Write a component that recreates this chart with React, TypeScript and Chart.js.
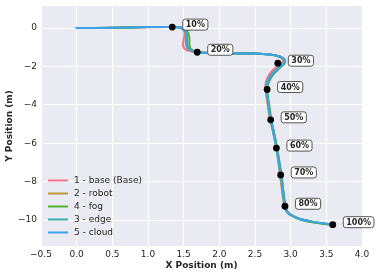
import React, { useEffect, useRef } from "react";
import { Chart, registerables } from "chart.js";

Chart.register(...registerables);

const seriesNames = ["1 - base (Base)", "2 - robot", "4 - fog", "3 - edge", "5 - cloud"];
const seriesColors = ["#f77189", "#bb9832", "#50b131", "#36ada4", "#3ba3ec"];

const baseX = [0.0, 0.5, 1.0, 1.34, 1.45, 1.51, 1.5, 1.49, 1.53, 1.62, 1.69, 1.9, 2.2, 2.5, 2.7, 2.83, 2.89, 2.87, 2.78, 2.7, 2.65, 2.65, 2.68, 2.72, 2.76, 2.8, 2.86, 2.92, 2.95, 3.0, 3.12, 3.3, 3.59];
const baseY = [0.0, 0.01, 0.04, 0.05, 0.02, -0.2, -0.6, -0.92, -1.12, -1.22, -1.26, -1.29, -1.31, -1.32, -1.37, -1.47, -1.64, -1.85, -2.08, -2.42, -2.83, -3.2, -4.0, -4.78, -5.5, -6.25, -7.65, -9.28, -9.55, -9.72, -9.93, -10.08, -10.24];

const robotX = [0.0, 0.5, 1.0, 1.34, 1.45, 1.52, 1.53, 1.53, 1.56, 1.63, 1.69, 1.9, 2.2, 2.5, 2.7, 2.83, 2.9, 2.89, 2.81, 2.72, 2.66, 2.65, 2.68, 2.71, 2.76, 2.8, 2.85, 2.91, 2.94, 2.99, 3.12, 3.3, 3.59];
const robotY = [0.0, 0.02, 0.05, 0.06, 0.03, -0.15, -0.5, -0.86, -1.09, -1.21, -1.26, -1.3, -1.32, -1.33, -1.38, -1.48, -1.65, -1.85, -2.1, -2.45, -2.85, -3.2, -4.0, -4.78, -5.5, -6.25, -7.65, -9.28, -9.56, -9.73, -9.94, -10.09, -10.25];

const fogX = [0.0, 0.5, 1.0, 1.34, 1.47, 1.55, 1.58, 1.58, 1.6, 1.65, 1.69, 1.9, 2.2, 2.5, 2.71, 2.85, 2.92, 2.91, 2.84, 2.75, 2.69, 2.67, 2.7, 2.73, 2.77, 2.81, 2.87, 2.93, 2.96, 3.01, 3.12, 3.3, 3.59];
const fogY = [0.0, 0.02, 0.05, 0.06, 0.03, -0.15, -0.5, -0.85, -1.08, -1.2, -1.26, -1.3, -1.32, -1.33, -1.38, -1.48, -1.65, -1.85, -2.1, -2.45, -2.85, -3.2, -4.0, -4.78, -5.5, -6.25, -7.65, -9.3, -9.58, -9.75, -9.96, -10.11, -10.26];

const edgeX = [0.0, 0.5, 1.0, 1.34, 1.46, 1.53, 1.55, 1.55, 1.58, 1.64, 1.69, 1.9, 2.2, 2.5, 2.71, 2.85, 2.92, 2.91, 2.83, 2.74, 2.68, 2.67, 2.69, 2.72, 2.77, 2.81, 2.87, 2.92, 2.95, 3.0, 3.12, 3.3, 3.59];
const edgeY = [0.0, 0.02, 0.05, 0.06, 0.03, -0.15, -0.5, -0.85, -1.08, -1.2, -1.26, -1.3, -1.32, -1.33, -1.38, -1.48, -1.65, -1.85, -2.1, -2.45, -2.85, -3.2, -4.0, -4.78, -5.5, -6.25, -7.65, -9.28, -9.55, -9.72, -9.93, -10.08, -10.24];

const cloudX = [0.0, 0.5, 1.0, 1.34, 1.45, 1.52, 1.54, 1.54, 1.57, 1.63, 1.69, 1.9, 2.2, 2.5, 2.7, 2.84, 2.91, 2.9, 2.82, 2.73, 2.67, 2.66, 2.69, 2.72, 2.76, 2.8, 2.86, 2.92, 2.95, 3.0, 3.12, 3.3, 3.59];
const cloudY = [0.0, 0.02, 0.05, 0.06, 0.03, -0.15, -0.5, -0.85, -1.08, -1.2, -1.26, -1.3, -1.32, -1.33, -1.38, -1.48, -1.65, -1.85, -2.1, -2.45, -2.85, -3.2, -4.0, -4.78, -5.5, -6.25, -7.65, -9.28, -9.55, -9.72, -9.93, -10.08, -10.24];

const markerX = [1.34, 1.69, 2.82, 2.67, 2.72, 2.8, 2.86, 2.92, 3.59];
const markerY = [0.05, -1.26, -1.83, -3.2, -4.78, -6.25, -7.65, -9.28, -10.24];
const markerLabels = ["10%", "20%", "30%", "40%", "50%", "60%", "70%", "80%", "100%"];

const xTicks = [-0.5, 0.0, 0.5, 1.0, 1.5, 2.0, 2.5, 3.0, 3.5, 4.0];
const yTicks = [-10, -8, -6, -4, -2, 0];

const seriesX = [baseX, robotX, fogX, edgeX, cloudX];
const seriesY = [baseY, robotY, fogY, edgeY, cloudY];

const FONT = "'DejaVu Sans', sans-serif";
const TEXT = "#262626";

const bgPlugin = {
  id: "bgPlugin",
  beforeDraw(chart: any) {
    const { ctx, chartArea } = chart;
    ctx.save();
    ctx.fillStyle = "#eaeaf2";
    ctx.fillRect(chartArea.left, chartArea.top, chartArea.right - chartArea.left, chartArea.bottom - chartArea.top);
    ctx.restore();
  },
};

const labelPlugin = {
  id: "labelPlugin",
  afterDatasetsDraw(chart: any) {
    const ctx = chart.ctx;
    const idx = chart.data.datasets.length - 1;
    const meta = chart.getDatasetMeta(idx);
    ctx.save();
    ctx.font = `bold 8px ${FONT}`;
    ctx.textBaseline = "middle";
    ctx.textAlign = "left";
    meta.data.forEach((pt: any, i: number) => {
      const text = markerLabels[i];
      const w = ctx.measureText(text).width + 6;
      const h = 11;
      const left = pt.x + 10.5;
      const top = pt.y - 2.5 - h / 2;
      ctx.beginPath();
      ctx.roundRect(left, top, w, h, 2.5);
      ctx.fillStyle = "#ffffff";
      ctx.fill();
      ctx.strokeStyle = "#555555";
      ctx.lineWidth = 1;
      ctx.stroke();
      ctx.fillStyle = TEXT;
      ctx.fillText(text, left + 3, top + h / 2 + 0.5);
    });
    ctx.restore();
  },
};

const legendPlugin = {
  id: "legendPlugin",
  afterDraw(chart: any) {
    const ctx = chart.ctx;
    ctx.save();
    ctx.font = `9px ${FONT}`;
    ctx.textBaseline = "middle";
    ctx.textAlign = "left";
    seriesNames.forEach((name, i) => {
      const y = 180.5 + i * 13;
      ctx.beginPath();
      ctx.moveTo(48, y);
      ctx.lineTo(68, y);
      ctx.strokeStyle = seriesColors[i];
      ctx.lineWidth = 2;
      ctx.stroke();
      ctx.fillStyle = TEXT;
      ctx.fillText(name, 74, y);
    });
    ctx.restore();
  },
};

const fmt = (v: number, d: number) => {
  const s = Math.abs(v).toFixed(d);
  return v < 0 ? "\u2212" + s : s;
};

export default function App() {
  const ref = useRef<HTMLCanvasElement | null>(null);
  useEffect(() => {
    document.body.style.margin = "0";
    const lineSets = seriesNames.map((name, i) => ({
      label: name,
      data: seriesX[i].map((x, j) => ({ x, y: seriesY[i][j] })),
      showLine: true,
      borderColor: seriesColors[i],
      backgroundColor: seriesColors[i],
      borderWidth: 2,
      pointRadius: 0,
      tension: 0.3,
      borderCapStyle: "round",
      borderJoinStyle: "round",
      order: seriesNames.length - i,
    }));
    const markerSet = {
      label: "markers",
      data: markerX.map((x, j) => ({ x, y: markerY[j] })),
      showLine: false,
      pointRadius: 3.4,
      pointBackgroundColor: "#000000",
      pointBorderWidth: 0,
      borderColor: "#000000",
      backgroundColor: "#000000",
      order: 0,
    };
    const chart = new Chart(ref.current as HTMLCanvasElement, {
      type: "scatter",
      data: { datasets: [...lineSets, markerSet] as any },
      plugins: [bgPlugin, labelPlugin, legendPlugin],
      options: {
        animation: false,
        responsive: false,
        events: [],
        layout: { padding: { left: 0, right: 15, top: 6, bottom: 0 } },
        plugins: { legend: { display: false }, tooltip: { enabled: false } },
        scales: {
          x: {
            type: "linear",
            min: -0.5,
            max: 4.0,
            afterBuildTicks: (s: any) => {
              s.ticks = xTicks.map((v) => ({ value: v }));
            },
            afterFit: (s: any) => {
              s.height = 31;
              s.paddingLeft = 0;
              s.paddingRight = 0;
            },
            grid: { color: "#ffffff", lineWidth: 1, drawTicks: false },
            border: { display: false },
            ticks: {
              padding: 3,
              color: TEXT,
              font: { family: FONT, size: 9 },
              maxRotation: 0,
              callback: (v: any) => fmt(Number(v), 1),
            },
            title: {
              display: true,
              text: "X Position (m)",
              color: TEXT,
              font: { family: FONT, size: 9, weight: "bold" },
              padding: { top: 0, bottom: 6 },
            },
          },
          y: {
            type: "linear",
            min: -11.35,
            max: 1.15,
            afterBuildTicks: (s: any) => {
              s.ticks = yTicks.map((v) => ({ value: v }));
            },
            afterFit: (s: any) => {
              s.width = 41;
              s.paddingTop = 0;
              s.paddingBottom = 0;
            },
            grid: { color: "#ffffff", lineWidth: 1, drawTicks: false },
            border: { display: false },
            ticks: {
              padding: 4,
              color: TEXT,
              font: { family: FONT, size: 9 },
              callback: (v: any) => fmt(Number(v), 0),
            },
            title: {
              display: true,
              text: "Y Position (m)",
              color: TEXT,
              font: { family: FONT, size: 9, weight: "bold" },
              padding: { top: 4.5, bottom: 0 },
            },
          },
        },
      } as any,
    });
    return () => chart.destroy();
  }, []);
  return <canvas ref={ref} width={377} height={277} style={{ display: "block" }} />;
}
